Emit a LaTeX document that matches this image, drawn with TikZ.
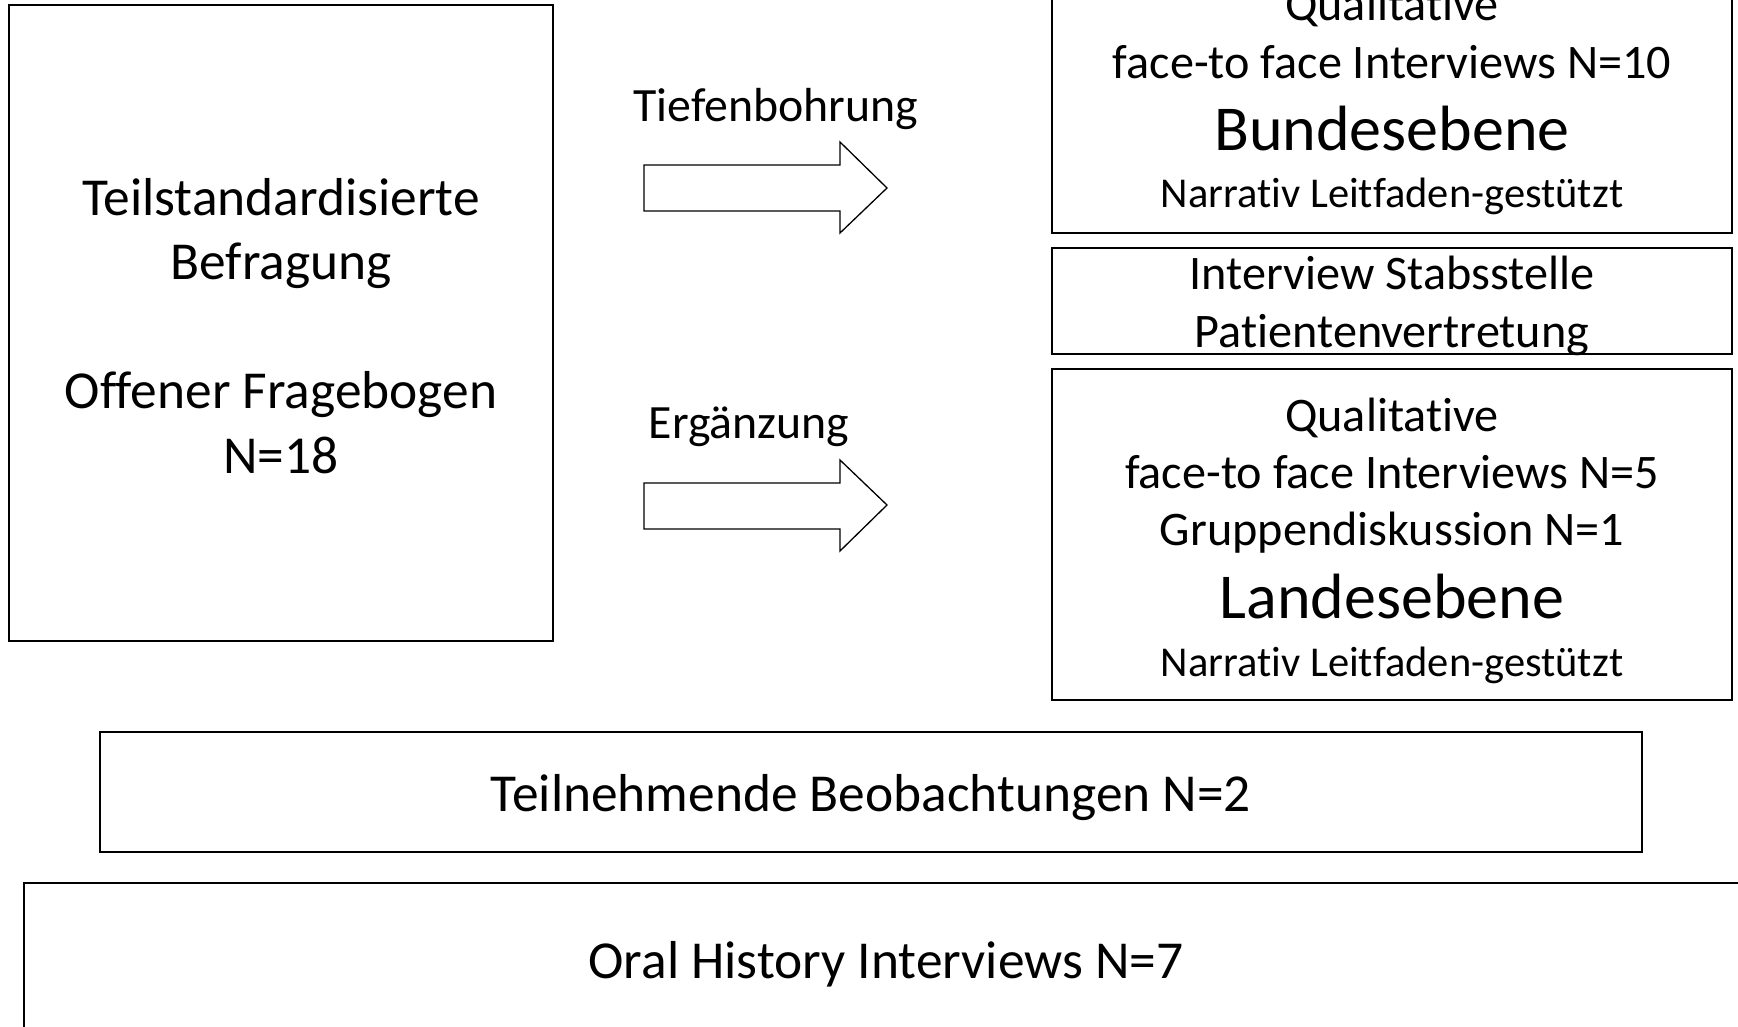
\documentclass[tikz,border=0pt]{standalone}
\usepackage{fontspec}
\setmainfont{Carlito}[Ligatures=NoCommon]
\usepackage{tikz}
\usetikzlibrary{positioning}

\tikzset{
  frame/.style={draw, line width=1.3pt, inner sep=0pt},
  bigtext/.style={font=\fontsize{53.4}{64.5}\selectfont},
  midtext/.style={font=\fontsize{48.2}{57}\selectfont, anchor=base},
  leveltext/.style={font=\fontsize{64}{75}\selectfont, anchor=base},
  smalltext/.style={font=\fontsize{42.5}{50}\selectfont, anchor=base},
  arrowtext/.style={font=\fontsize{47.8}{55}\selectfont, anchor=base}
}

\begin{document}
\begin{tikzpicture}[x=1pt, y=-1pt]
\useasboundingbox (0,0) rectangle (1738,1027);

% left: survey
\node[frame, minimum width=544pt, minimum height=636pt] (survey) at (281,323) {};
\node[bigtext, align=center] (surveytext) at (281,326)
  {Teilstandardisierte\\Befragung\\[64.5pt]Offener Fragebogen\\N=18};

% right: three boxes
\node[frame, minimum width=680pt, minimum height=243pt] (bund) at (1392,111.5) {};
\node[frame, minimum width=680pt, minimum height=106pt] (stab) at (1392,301) {};
\node[frame, minimum width=680pt, minimum height=331pt] (land) at (1392,534.5) {};

\node[midtext] (bundA) at (1392,21) {Qualitative};
\node[midtext] (bundB) at (1392,79) {face-to face Interviews N=10};
\node[leveltext] (bundC) at (1392,151) {Bundesebene};
\node[smalltext] (bundD) at (1392,208) {Narrativ Leitfaden-gestützt};

\node[midtext] (stabA) at (1392,289) {Interview Stabsstelle};
\node[midtext] (stabB) at (1392,347) {Patientenvertretung};

\node[midtext] (landA) at (1392,431) {Qualitative};
\node[midtext] (landB) at (1392,488) {face-to face Interviews N=5};
\node[midtext] (landC) at (1392,545) {Gruppendiskussion N=1};
\node[leveltext] (landD) at (1392,618) {Landesebene};
\node[smalltext] (landE) at (1392,676) {Narrativ Leitfaden-gestützt};

% block arrows
\node[arrowtext] (tief) at (776,122) {Tiefenbohrung};
\draw[frame] (644,165) -- (840,165) -- (840,142) -- (887,188) -- (840,233) -- (840,211) -- (644,211) -- cycle;
\node[arrowtext] (erg) at (749,438) {Ergänzung};
\draw[frame] (644,483) -- (840,483) -- (840,460) -- (887,505) -- (840,551) -- (840,529) -- (644,529) -- cycle;

% bottom boxes
\node[frame, minimum width=1542pt, minimum height=120pt] (beob) at (871,792) {};
\node[bigtext] (beobtext) at (871,797.5) {Teilnehmende Beobachtungen N=2};
\node[frame, minimum width=1736pt, minimum height=167pt] (oral) at (892,966.5) {};
\node[bigtext] (oraltext) at (886,964.5) {Oral History Interviews N=7};
\end{tikzpicture}
\end{document}
